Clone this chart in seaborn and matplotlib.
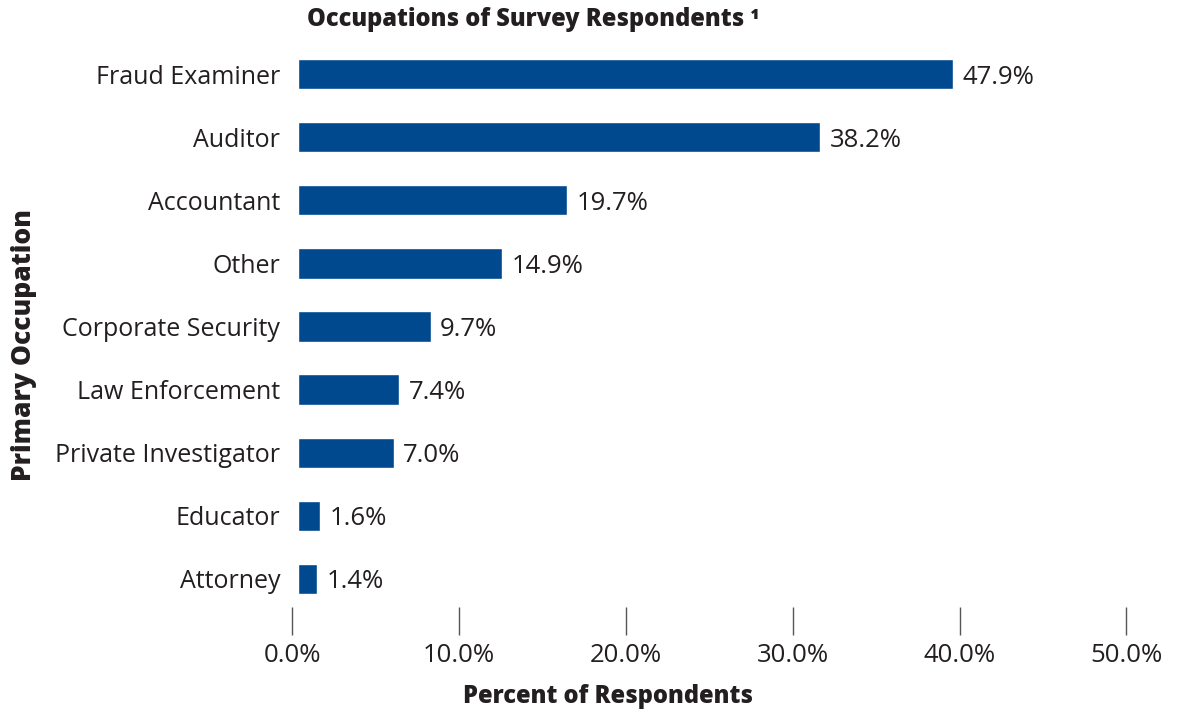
import matplotlib
matplotlib.use("Agg")

import matplotlib.pyplot as plt
import seaborn as sns
import pandas as pd

# chart data
occupations = ["Fraud Examiner", "Auditor", "Accountant", "Other", "Corporate Security",
               "Law Enforcement", "Private Investigator", "Educator", "Attorney"]
percents = [47.9, 38.2, 19.7, 14.9, 9.7, 7.4, 7.0, 1.6, 1.4]
tick_labels = ["0.0%", "10.0%", "20.0%", "30.0%", "40.0%", "50.0%"]

df = pd.DataFrame({"occupation": occupations, "percent": percents})

sns.set_theme(style="white")
plt.rcParams["font.family"] = ["Open Sans", "DejaVu Sans"]

fig = plt.figure(figsize=(11.81, 7.17), dpi=100)
W, H = 1181, 717
ax_l, ax_r, ax_t, ax_b = 280, 1140, 40, 635
ax = fig.add_axes([ax_l / W, 1 - ax_b / H, (ax_r - ax_l) / W, (ax_b - ax_t) / H])

text_color = "#231f20"
bar_color = "#00498f"
sns.barplot(data=df, x="percent", y="occupation", color=bar_color,
            width=0.48, saturation=1, ax=ax)

# value labels at end of each bar
for i, v in enumerate(percents):
    ax.text(v + 0.7, i + 0.05, f"{v:.1f}%", va="center", ha="left",
            fontsize=18.5, color=text_color)

# the printed axis is stretched relative to the bars in the original
axis_stretch = 1.221
ax.set_xlim(-1.32, 61.6)
ax.set_ylim(8.89, -0.54)
ax.set_xticks([(-0.44 + i * 10 * axis_stretch) for i in range(len(tick_labels))])
ax.set_xticklabels(tick_labels, fontsize=18.5, color=text_color)

for s in ax.spines.values():
    s.set_visible(False)

ax.tick_params(axis="x", direction="in", length=20, width=1, color="#555555",
               bottom=True, pad=6)
ax.tick_params(axis="y", length=0, pad=0, labelsize=18, labelcolor=text_color)

ax.set_xlabel("Percent of Respondents", fontsize=17, fontweight="heavy",
              color=text_color)
ax.xaxis.set_label_coords((608 - ax_l) / (ax_r - ax_l), -(684 - ax_b) / (ax_b - ax_t))
ax.set_ylabel("Primary Occupation", fontsize=19, fontweight="heavy",
              color=text_color)
ax.yaxis.set_label_coords(-(ax_l - 37) / (ax_r - ax_l), (ax_b - 345) / (ax_b - ax_t))
ax.set_title("Occupations of Survey Respondents \u00b9", fontsize=17,
             fontweight="heavy", color=text_color, pad=10,
             x=(533 - ax_l) / (ax_r - ax_l))

fig.savefig("out.png", dpi=100)
plt.close(fig)
